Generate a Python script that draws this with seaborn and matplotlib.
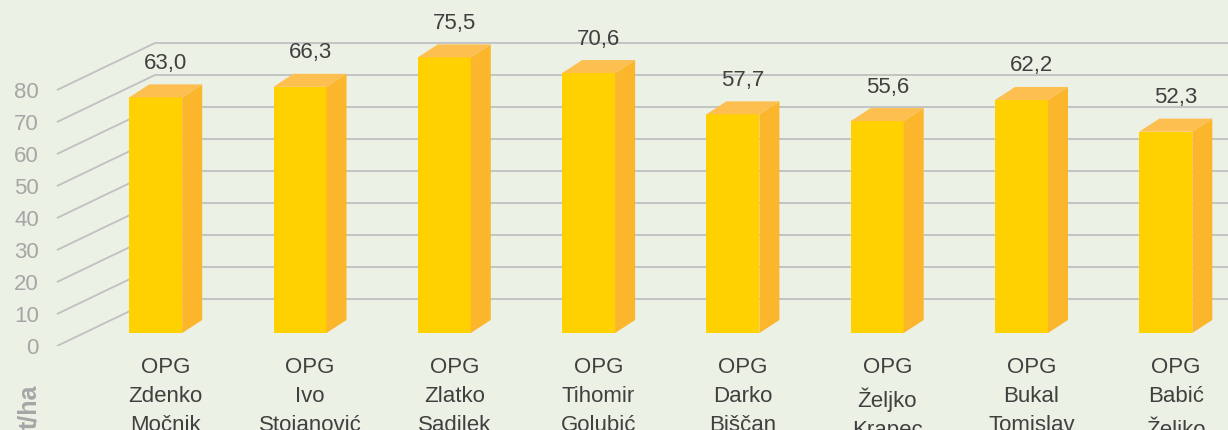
import matplotlib
matplotlib.use("Agg")
import matplotlib.pyplot as plt
import seaborn as sns
from matplotlib import transforms
from matplotlib.patches import Polygon

# podaci
farme = ["OPG\nZdenko\nMočnik", "OPG\nIvo\nStojanović", "OPG\nZlatko\nSadilek",
         "OPG\nTihomir\nGolubić", "OPG\nDarko\nBiščan", "OPG\nŽeljko\nKrapec",
         "OPG\nBukal\nTomislav", "OPG\nBabić\nŽeljko"]
prinos = [63.0, 66.3, 75.5, 70.6, 57.7, 55.6, 62.2, 52.3]
y_ticks = [0, 10, 20, 30, 40, 50, 60, 70, 80]
y_oznaka = "t/ha"

# boje
BG = "#EBF1E4"
FRONT = "#FFD100"
SIDE = "#FBB62C"
TOP = "#FDBF4F"
GRID = "#BFC1C1"
TXT = "#404040"
TICK = "#A6A6A6"

# geometrija (pikseli)
W, H, DPI = 1228, 430, 100
PX_UNIT = 3.2        # piksela po t/ha
ZERO_PX = 299        # nula na stražnjem zidu
AX_BOTTOM_PX = 346   # donji rub osi (prednji rub lijevog zida)
FLOOR_PX = 333       # dno stupaca
WALL_PX = 155        # x stražnjeg zida
WALL_FRONT_PX = 57   # x prednjeg ruba lijevog zida
DEPTH_X, DEPTH_Y = 20, 13
CAT_PX = 144.3
CAT0_PX = 155.7
BAR_PX = 53
FS = 16

sns.set_style("white")
plt.rcParams['font.family'] = ['Liberation Sans', 'DejaVu Sans']

y_lo = (ZERO_PX - AX_BOTTOM_PX) / PX_UNIT
y_hi = ZERO_PX / PX_UNIT
floor = (ZERO_PX - FLOOR_PX) / PX_UNIT
wall_drop = (AX_BOTTOM_PX - ZERO_PX) / PX_UNIT
dx = DEPTH_X / CAT_PX
dy = DEPTH_Y / PX_UNIT

fig = plt.figure(figsize=(W / DPI, H / DPI), dpi=DPI, facecolor=BG)
ax_pos = [0, 1 - AX_BOTTOM_PX / H, 1, AX_BOTTOM_PX / H]
ax = fig.add_axes(ax_pos)
ax.patch.set_visible(False)

sns.barplot(x=farme, y=prinos, ax=ax, color=FRONT, saturation=1,
            width=BAR_PX / CAT_PX, linewidth=0, zorder=2)

ax.set_xlim(-CAT0_PX / CAT_PX, (W - CAT0_PX) / CAT_PX)
ax.set_ylim(y_lo, y_hi)

# 3D stranice, vrh i oznake vrijednosti
for p, v in zip(ax.patches, prinos):
    x0, w, top = p.get_x(), p.get_width(), p.get_height()
    p.set_y(floor)
    p.set_height(top - floor)
    side = [(x0 + w, floor), (x0 + w + dx, floor + dy), (x0 + w + dx, top + dy), (x0 + w, top)]
    cap = [(x0, top), (x0 + dx, top + dy), (x0 + w + dx, top + dy), (x0 + w, top)]
    ax.add_patch(Polygon(side, closed=True, facecolor=SIDE, edgecolor='none', zorder=2))
    ax.add_patch(Polygon(cap, closed=True, facecolor=TOP, edgecolor='none', zorder=2))
    ax.annotate(f"{v:.1f}".replace('.', ','), xy=(x0 + w / 2, top),
                xytext=(10 * 72 / DPI, 34 * 72 / DPI), textcoords='offset points',
                ha='center', va='center', fontsize=FS, color=TXT)

# mreža: lijevi zid i stražnji zid
blend = transforms.blended_transform_factory(ax.transAxes, ax.transData)
for t in y_ticks:
    ax.plot([WALL_FRONT_PX / W, WALL_PX / W], [t - wall_drop, t], transform=blend,
            color=GRID, lw=1.3, zorder=0.5, solid_capstyle='butt')
    ax.plot([WALL_PX / W, 1], [t, t], transform=blend,
            color=GRID, lw=1.3, zorder=0.5, solid_capstyle='butt')

sns.despine(ax=ax, left=True, bottom=True)
ax.set_yticks([])
ax.set_xlabel("")
ax.tick_params(axis='x', length=0, pad=8, labelsize=FS, labelcolor=TXT)
shift = transforms.ScaledTranslation((DEPTH_X / 2) / DPI, 0, fig.dpi_scale_trans)
for lab in ax.get_xticklabels():
    lab.set_transform(lab.get_transform() + shift)
    lab.set_linespacing(1.5)

# os s oznakama vrijednosti na prednjem rubu lijevog zida
tax = fig.add_axes([WALL_FRONT_PX / W, ax_pos[1], 1 - WALL_FRONT_PX / W, ax_pos[3]])
tax.patch.set_visible(False)
tax.set_ylim(y_lo + wall_drop, y_hi + wall_drop)
tax.set_yticks(y_ticks)
tax.set_xticks([])
tax.tick_params(axis='y', length=0, pad=13, labelsize=FS, labelcolor=TICK)
for s in tax.spines.values():
    s.set_visible(False)

fig.text(29 / W, 1 - 407 / H, y_oznaka, rotation=90, ha='center', va='center',
         fontsize=18, fontweight='bold', color=TICK)

fig.savefig("out.png", dpi=DPI, facecolor=BG)
